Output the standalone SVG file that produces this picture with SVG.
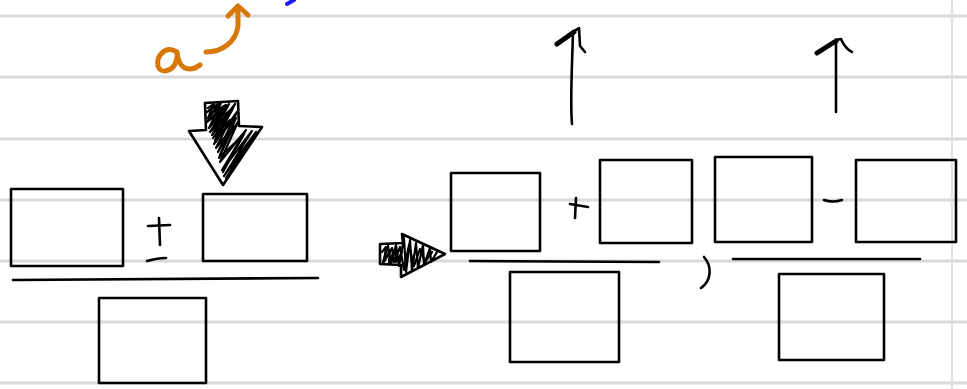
<svg xmlns="http://www.w3.org/2000/svg" width="967" height="389" viewBox="0 0 967 389">
  <style>
    .rule { stroke: #d9d9d9; stroke-width: 3; fill: none; }
    .box { fill: none; stroke: #000; stroke-width: 2.6; stroke-linejoin: round; }
    .ink { fill: none; stroke: #000; stroke-width: 2.6; stroke-linecap: round; stroke-linejoin: round; }
    .hatch { fill: none; stroke: #000; stroke-width: 2.2; stroke-linecap: round; stroke-linejoin: round; }
    .orange { fill: none; stroke: #d97706; stroke-width: 5; stroke-linecap: round; stroke-linejoin: round; }
  </style>
  <rect width="967" height="389" fill="#fff"/>

  <!-- ruled paper -->
  <g id="paper">
    <line class="rule" x1="0" y1="16" x2="967" y2="16"/>
    <line class="rule" x1="0" y1="77" x2="967" y2="77"/>
    <line class="rule" x1="0" y1="139" x2="967" y2="139"/>
    <line class="rule" x1="0" y1="200" x2="967" y2="200"/>
    <line class="rule" x1="0" y1="261" x2="967" y2="261"/>
    <line class="rule" x1="0" y1="322" x2="967" y2="322"/>
    <line class="rule" x1="0" y1="383" x2="967" y2="383"/>
    <line x1="952" y1="0" x2="952" y2="389" stroke="#e0e0e0" stroke-width="2"/>
  </g>

  <!-- annotation: a with curved arrow -->
  <g id="note-a">
    <path class="orange" d="M175 51 C165 46 156 56 158 66 C160 74 172 72 176 62 C177 56 178 54 177 52 C178 62 182 72 195 68 L200 65"/>
    <path class="orange" d="M206 52 C222 52 236 42 238 26 L238 8"/>
    <path class="orange" d="M228 16 L238 6 L248 15"/>
    <path d="M287 4 L294 0" stroke="#1a1aff" stroke-width="4" stroke-linecap="round"/>
  </g>

  <!-- left fraction -->
  <g id="box-a"><rect class="box" x="11" y="189" width="112" height="77"/></g>
  <g id="box-b"><rect class="box" x="203" y="194" width="104" height="67"/></g>
  <g id="box-c"><rect class="box" x="99" y="298" width="107" height="85"/></g>
  <g id="pm-sign">
    <path class="ink" d="M148 226 L170 225"/>
    <path class="ink" d="M159 218 L160 245"/>
    <path class="ink" d="M147 261 C154 259 160 258 166 258"/>
  </g>
  <g id="bar-left"><path class="ink" d="M13 280 L318 278"/></g>

  <!-- hatched down arrow -->
  <g id="arrow-down">
    <path class="ink" d="M205 103 L238 101 L239 126 L262 127 L223 185 L189 131 L206 130 Z"/>
    <path class="hatch" d="M208 108 L214 104 L208 118 L221 103 L209 128 L229 104 L212 135 L235 104 L214 144 L237 112 L218 152 L238 122 L220 162 L246 130 L222 170 L252 131 L224 176 L256 132 L226 178"/>
    <path class="hatch" d="M210 114 L226 105 L211 125 L233 108 L215 140 L236 118 L219 158 L244 134 L223 172"/>
    <path class="hatch" d="M207 112 L218 104 L207 122 L228 106 L210 132 L232 110 L213 138 L230 120 L216 148 L234 126 L220 155"/>
    <path class="hatch" d="M212 106 L209 120 L224 106 L212 130 L218 120 L216 142"/>
  </g>

  <!-- hatched right arrow -->
  <g id="arrow-right">
    <path class="ink" d="M380 244 L403 243 L402 234 L445 254 L401 277 L401 265 L380 264 Z"/>
    <path class="hatch" d="M383 262 L388 246 L391 264 L396 245 L399 266 L404 238 L406 272 L410 240 L412 271 L416 243 L418 268 L423 245 L424 265 L430 248 L431 262 L437 252"/>
    <path class="hatch" d="M385 260 L392 248 L394 262 L400 247 L404 270 L409 245 L414 266 L420 249 L425 262 L432 252"/>
    <path class="hatch" d="M382 252 L386 247 L384 262 L390 250 L389 263 L395 249 L396 262 L402 252"/>
  </g>

  <!-- right-hand result -->
  <g id="box-d"><rect class="box" x="451" y="173" width="89" height="78"/></g>
  <g id="box-e"><rect class="box" x="510" y="272" width="109" height="90"/></g>
  <g id="box-f"><rect class="box" x="600" y="160" width="92" height="83"/></g>
  <g id="box-g"><rect class="box" x="715" y="157" width="97" height="85"/></g>
  <g id="box-h"><rect class="box" x="856" y="160" width="100" height="82"/></g>
  <g id="box-i"><rect class="box" x="779" y="274" width="105" height="86"/></g>

  <g id="plus-sign">
    <path class="ink" d="M570 204 L588 207"/>
    <path class="ink" d="M576 198 L575 218"/>
  </g>
  <g id="minus-sign"><path class="ink" d="M824 200 C830 202 836 202 842 200"/></g>
  <g id="comma"><path class="ink" d="M704 257 C712 266 712 280 701 288"/></g>

  <g id="connectors">
    <path class="ink" d="M470 261 L659 262"/>
    <path class="ink" d="M733 259 L920 259"/>
    <!-- up arrows -->
    <path class="ink" d="M572 124 C570 100 572 70 573 32"/>
    <path d="M557 44 L574 32" stroke="#000" stroke-width="5" stroke-linecap="round"/>
    <path class="ink" d="M573 32 L579 28 L580 46 L585 52"/>
    <path class="ink" d="M836 112 L836 40"/>
    <path d="M817 53 L836 41" stroke="#000" stroke-width="5" stroke-linecap="round"/>
    <path class="ink" d="M836 40 L841 39 C844 46 848 50 852 52"/>
  </g>
</svg>
